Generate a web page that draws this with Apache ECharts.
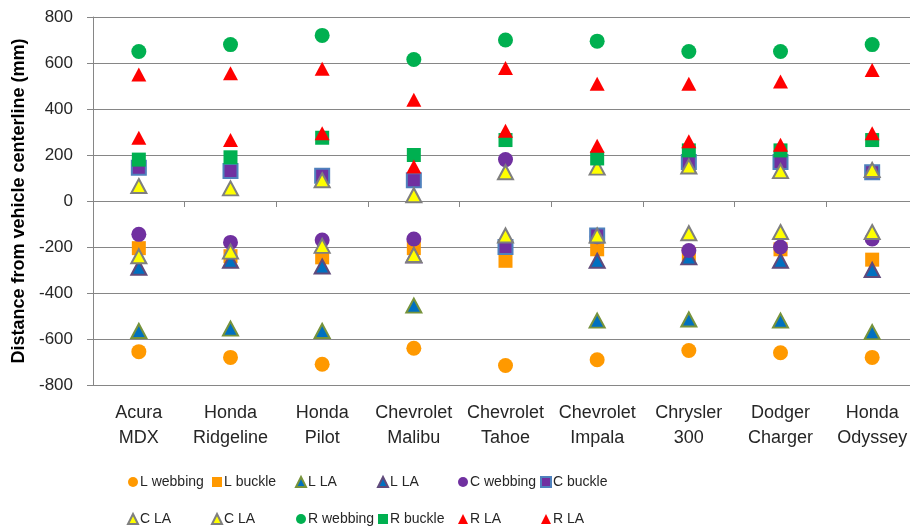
<!DOCTYPE html>
<html>
<head>
<meta charset="utf-8">
<script src="https://cdn.jsdelivr.net/npm/echarts@6/dist/echarts.min.js"></script>
<style>
  html, body { margin: 0; padding: 0; background: #fff; }
  #chart { width: 910px; height: 531px; }
</style>
</head>
<body>
<div id="chart"></div>
<script>
// vehicles on the x axis
var categories = ['Acura\nMDX', 'Honda\nRidgeline', 'Honda\nPilot', 'Chevrolet\nMalibu', 'Chevrolet\nTahoe',
  'Chevrolet\nImpala', 'Chrysler\n300', 'Dodger\nCharger', 'Honda\nOdyssey'];

// distances from vehicle centerline, mm
var lWebbing = [-655, -680, -710, -640, -715, -690, -650, -660, -680];
var lBuckle  = [-205, -240, -245, -205, -260, -210, -230, -210, -255];
var lLA1     = [-565, -555, -565, -455, null, -520, -515, -520, -570];
var lLA2     = [-290, -260, -285, -237, null, -260, -245, -260, -300];
var cWebbing = [-145, -180, -170, -165, 180, -155, -215, -200, -165];
var cBuckle  = [145, 130, 110, 90, -200, -150, 170, 170, 125];
var cLA1     = [65, 55, 90, 25, 125, 145, 150, 130, 135];
var cLA2     = [-240, -220, -195, -235, -150, -150, -140, -135, -135];
var rWebbing = [650, 680, 720, 615, 700, 695, 650, 650, 680];
var rBuckle  = [180, 190, 275, 200, 265, 185, 220, 220, 265];
var rLA1     = [550, 555, 575, 440, 578, 510, 510, 520, 570];
var rLA2     = [275, 265, 295, 150, 305, 240, 260, 245, 295];

var yTicks = { min: -800, max: 800, interval: 200 };

var FONT = 'Liberation Sans';
var TEXT = '#262626';
var ORANGE = '#FF9900', BLUE = '#0070C0', PURPLE = '#7030A0', GREEN = '#00B050', RED = '#FF0000', YELLOW = '#FFFF00';

function mk(name, data, symbol, fill, border, size) {
  return {
    name: name,
    type: 'scatter',
    data: data,
    symbol: symbol,
    symbolSize: size,
    itemStyle: {
      color: fill,
      borderColor: border || fill,
      borderWidth: border ? 2 : 0,
      opacity: 1
    }
  };
}

var TRI = [15, 14];
var series = [
  mk('L webbing', lWebbing, 'circle', ORANGE, null, 15),
  mk('L buckle', lBuckle, 'rect', ORANGE, null, 14),
  mk('L LA', lLA1, 'triangle', BLUE, '#77933C', TRI),
  mk('L LA ', lLA2, 'triangle', BLUE, '#604A7B', TRI),
  mk('C webbing', cWebbing, 'circle', PURPLE, null, 15),
  mk('C buckle', cBuckle, 'rect', PURPLE, '#4F81BD', 14),
  mk('C LA', cLA1, 'triangle', YELLOW, '#7F7F7F', TRI),
  mk('C LA ', cLA2, 'triangle', YELLOW, '#7F7F7F', TRI),
  mk('R webbing', rWebbing, 'circle', GREEN, null, 15),
  mk('R buckle', rBuckle, 'rect', GREEN, null, 14),
  mk('R LA', rLA1, 'triangle', RED, null, TRI),
  mk('R LA ', rLA2, 'triangle', RED, null, TRI)
];

// legend laid out as 6 columns x 2 rows
var legendCols = [
  ['L webbing', 'C LA'],
  ['L buckle', 'C LA '],
  ['L LA', 'R webbing'],
  ['L LA ', 'R buckle'],
  ['C webbing', 'R LA'],
  ['C buckle', 'R LA ']
];
var legendLeft = [127, 211, 295, 377, 458, 540];
var legends = legendCols.map(function (col, i) {
  return {
    data: col,
    orient: 'vertical',
    left: legendLeft[i],
    top: 474,
    itemWidth: 10,
    itemHeight: 10,
    itemGap: 21,
    padding: 0,
    selectedMode: false,
    textStyle: { fontFamily: FONT, fontSize: 14, lineHeight: 16, color: TEXT, padding: [0, 0, 0, -3] }
  };
});

var chart = echarts.init(document.getElementById('chart'), null, { renderer: 'canvas' });
chart.setOption({
  animation: false,
  backgroundColor: '#fff',
  grid: { left: 93, top: 17, width: 825, height: 368, containLabel: false, outerBoundsMode: 'none' },
  legend: legends,
  xAxis: [
    {
      type: 'category',
      data: categories,
      position: 'bottom',
      boundaryGap: true,
      axisLine: { show: false, onZero: false },
      axisTick: { show: false },
      axisLabel: { fontFamily: FONT, fontSize: 18, lineHeight: 25, color: TEXT, margin: 16, interval: 0 },
      splitLine: { show: false }
    },
    {
      type: 'category',
      data: categories,
      position: 'bottom',
      boundaryGap: true,
      axisLine: { show: true, onZero: true, lineStyle: { color: '#868686', width: 1 } },
      axisTick: { show: true, length: 6, lineStyle: { color: '#868686' } },
      axisLabel: { show: false },
      splitLine: { show: false }
    }
  ],
  yAxis: {
    type: 'value',
    min: yTicks.min,
    max: yTicks.max,
    interval: yTicks.interval,
    name: 'Distance from vehicle centerline (mm)',
    nameLocation: 'middle',
    nameGap: 65,
    nameTextStyle: { fontFamily: FONT, fontSize: 18, fontWeight: 'bold', color: '#000' },
    axisLine: { show: true, lineStyle: { color: '#868686' } },
    axisTick: { show: true, length: 6, lineStyle: { color: '#868686' } },
    axisLabel: { fontFamily: FONT, fontSize: 17, color: TEXT, margin: 20 },
    splitLine: { show: true, lineStyle: { color: '#868686', width: 1 } }
  },
  series: series
});
</script>
</body>
</html>
